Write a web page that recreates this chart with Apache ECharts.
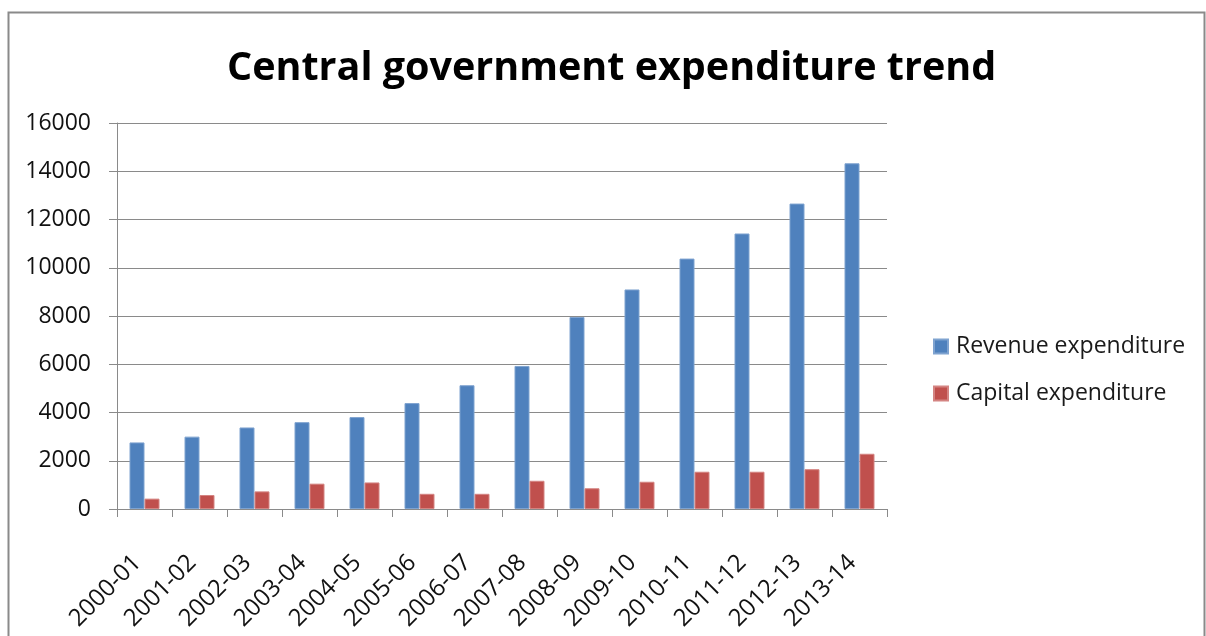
<!DOCTYPE html>
<html>
<head>
<meta charset="utf-8">
<script src="https://cdn.jsdelivr.net/npm/echarts@6/dist/echarts.min.js"></script>
<style>
html,body{margin:0;padding:0;background:#fff;}
#chart{width:1206px;height:636px;}
</style>
</head>
<body>
<div id="chart"></div>
<script>
const categories = ['2000-01','2001-02','2002-03','2003-04','2004-05','2005-06','2006-07','2007-08','2008-09','2009-10','2010-11','2011-12','2012-13','2013-14'];
const revenueExpenditure = [2760, 3000, 3380, 3600, 3810, 4390, 5130, 5930, 7960, 9100, 10380, 11420, 12660, 14330];
const capitalExpenditure = [430, 580, 730, 1050, 1100, 630, 630, 1170, 860, 1130, 1545, 1545, 1650, 2290];
const yTicks = {min: 0, max: 16000, interval: 2000};

const FONT = '"Open Sans", "Liberation Sans", sans-serif';
const chart = echarts.init(document.getElementById('chart'), null, {renderer: 'canvas'});
chart.setOption({
  backgroundColor: '#fff',
  animation: false,
  title: {
    text: 'Central government expenditure trend',
    left: 222,
    top: 44,
    textStyle: {fontFamily: FONT, fontWeight: 'bold', fontSize: 39.5, color: '#000'}
  },
  graphic: [{
    type: 'rect', left: 6, top: 10,
    shape: {width: 1196, height: 660},
    style: {fill: 'none', stroke: '#8a8a8a', lineWidth: 2},
    silent: true, z: 100
  }],
  legend: {
    orient: 'vertical',
    left: 928, top: 330,
    itemWidth: 14, itemHeight: 14,
    itemGap: 24,
    icon: 'rect',
    textStyle: {fontFamily: FONT, fontSize: 23, color: '#1a1a1a', padding: [0, 0, 0, 3]},
    data: ['Revenue expenditure', 'Capital expenditure']
  },
  grid: {left: 117, right: 319, top: 123, bottom: 127, containLabel: false},
  xAxis: {
    type: 'category',
    data: categories,
    axisLine: {lineStyle: {color: '#8a8a8a', width: 1}},
    axisTick: {show: true, length: 8, alignWithLabel: false, lineStyle: {color: '#8a8a8a'}},
    axisLabel: {rotate: 45, margin: 43, interval: 0, fontFamily: FONT, fontSize: 24, color: '#111', padding: [0, 10, 0, 0]},
    splitLine: {show: false}
  },
  yAxis: {
    type: 'value',
    min: yTicks.min, max: yTicks.max, interval: yTicks.interval,
    axisLine: {show: true, lineStyle: {color: '#8a8a8a', width: 1}},
    axisTick: {show: true, length: 8, lineStyle: {color: '#8a8a8a'}},
    axisLabel: {margin: 26, fontFamily: FONT, fontSize: 23, color: '#111', formatter: function (v) { return String(v); }},
    splitLine: {show: true, lineStyle: {color: '#8a8a8a', width: 1}}
  },
  series: [{
    name: 'Revenue expenditure',
    type: 'bar',
    data: revenueExpenditure,
    barWidth: 15,
    barGap: '0%',
    itemStyle: {color: '#4F81BD', borderColor: '#7FA3D0', borderWidth: 1}
  }, {
    name: 'Capital expenditure',
    type: 'bar',
    data: capitalExpenditure,
    barWidth: 15,
    barGap: '0%',
    itemStyle: {color: '#C0504D', borderColor: '#D48482', borderWidth: 1}
  }]
});
</script>
</body>
</html>
